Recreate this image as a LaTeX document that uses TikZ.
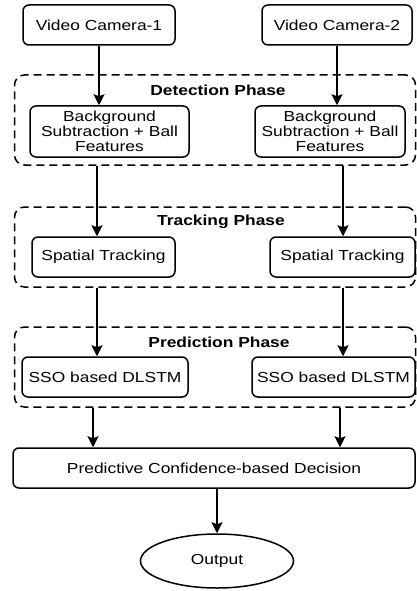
\documentclass[tikz,border=0pt]{standalone}
\usepackage{fontspec}
\setmainfont{Liberation Sans}[FakeStretch=1.2]
\usetikzlibrary{arrows.meta,shapes.geometric}

\tikzset{
  block/.style={draw, line width=1.5pt, rounded corners=6pt, align=center, inner sep=0pt},
  phase/.style={draw, dash pattern=on 8pt off 5pt, line width=1.5pt, rounded corners=10pt},
  phasetitle/.style={font=\fontsize{14.5}{15}\selectfont\bfseries},
  flow/.style={-{Stealth[length=11pt,width=11pt,inset=2pt]}, line width=1.5pt},
}

\begin{document}
\begin{tikzpicture}[x=1pt, y=-1pt, font=\fontsize{14.5}{15}\selectfont]
  \useasboundingbox (0,0) rectangle (417,591);
  % cameras
  \node[block, minimum width=152pt, minimum height=40pt] (cam1) at (99,25) {Video Camera-1};
  \node[block, minimum width=150pt, minimum height=40pt] (cam2) at (337,25) {Video Camera-2};
  % phases
  \node[phase, minimum width=401pt, minimum height=90pt] (det) at (215,120) {};
  \node[phase, minimum width=401pt, minimum height=80pt] (trk) at (215,247) {};
  \node[phase, minimum width=401pt, minimum height=80pt] (prd) at (215,367) {};
  \node[phasetitle] (dettitle) at (218,90) {Detection Phase};
  \node[phasetitle] (trktitle) at (221,222) {Tracking Phase};
  \node[phasetitle] (prdtitle) at (219,342) {Prediction Phase};
  % inner blocks
  \node[block, minimum width=159pt, minimum height=51pt] (bg1) at (109.5,131.5) {Background\\Subtraction + Ball\\Features};
  \node[block, minimum width=150pt, minimum height=51pt] (bg2) at (330,131.5) {Background\\Subtraction + Ball\\Features};
  \node[block, minimum width=143pt, minimum height=40pt] (st1) at (103.5,257) {Spatial Tracking};
  \node[block, minimum width=145pt, minimum height=40pt] (st2) at (342.5,257) {Spatial Tracking};
  \node[block, minimum width=166pt, minimum height=40pt] (sso1) at (105,377) {SSO based DLSTM};
  \node[block, minimum width=163pt, minimum height=40pt] (sso2) at (333.5,377) {SSO based DLSTM};
  \node[block, minimum width=402pt, minimum height=40pt] (dec) at (214,468) {Predictive Confidence-based Decision};
  \node[draw, ellipse, line width=1.5pt, minimum width=153pt, minimum height=54pt, inner sep=0pt] (out) at (217,561) {Output};
  % arrow columns
  \coordinate (c1) at (97,0);
  \coordinate (c2) at (343,0);
  \coordinate (c3) at (93,0);
  \coordinate (c4) at (340,0);
  \draw[flow] (cam1.south) -- (cam1.south |- bg1.north);
  \draw[flow] (cam2.south) -- (cam2.south |- bg2.north);
  \draw[flow] (c1 |- det.south) -- (c1 |- st1.north);
  \draw[flow] (c2 |- det.south) -- (c2 |- st2.north);
  \draw[flow] (c1 |- trk.south) -- (c1 |- sso1.north);
  \draw[flow] (c2 |- trk.south) -- (c2 |- sso2.north);
  \draw[flow] (c3 |- prd.south) -- (c3 |- dec.north);
  \draw[flow] (c4 |- prd.south) -- (c4 |- dec.north);
  \draw[flow] (out.north |- dec.south) -- (out.north);
\end{tikzpicture}
\end{document}
